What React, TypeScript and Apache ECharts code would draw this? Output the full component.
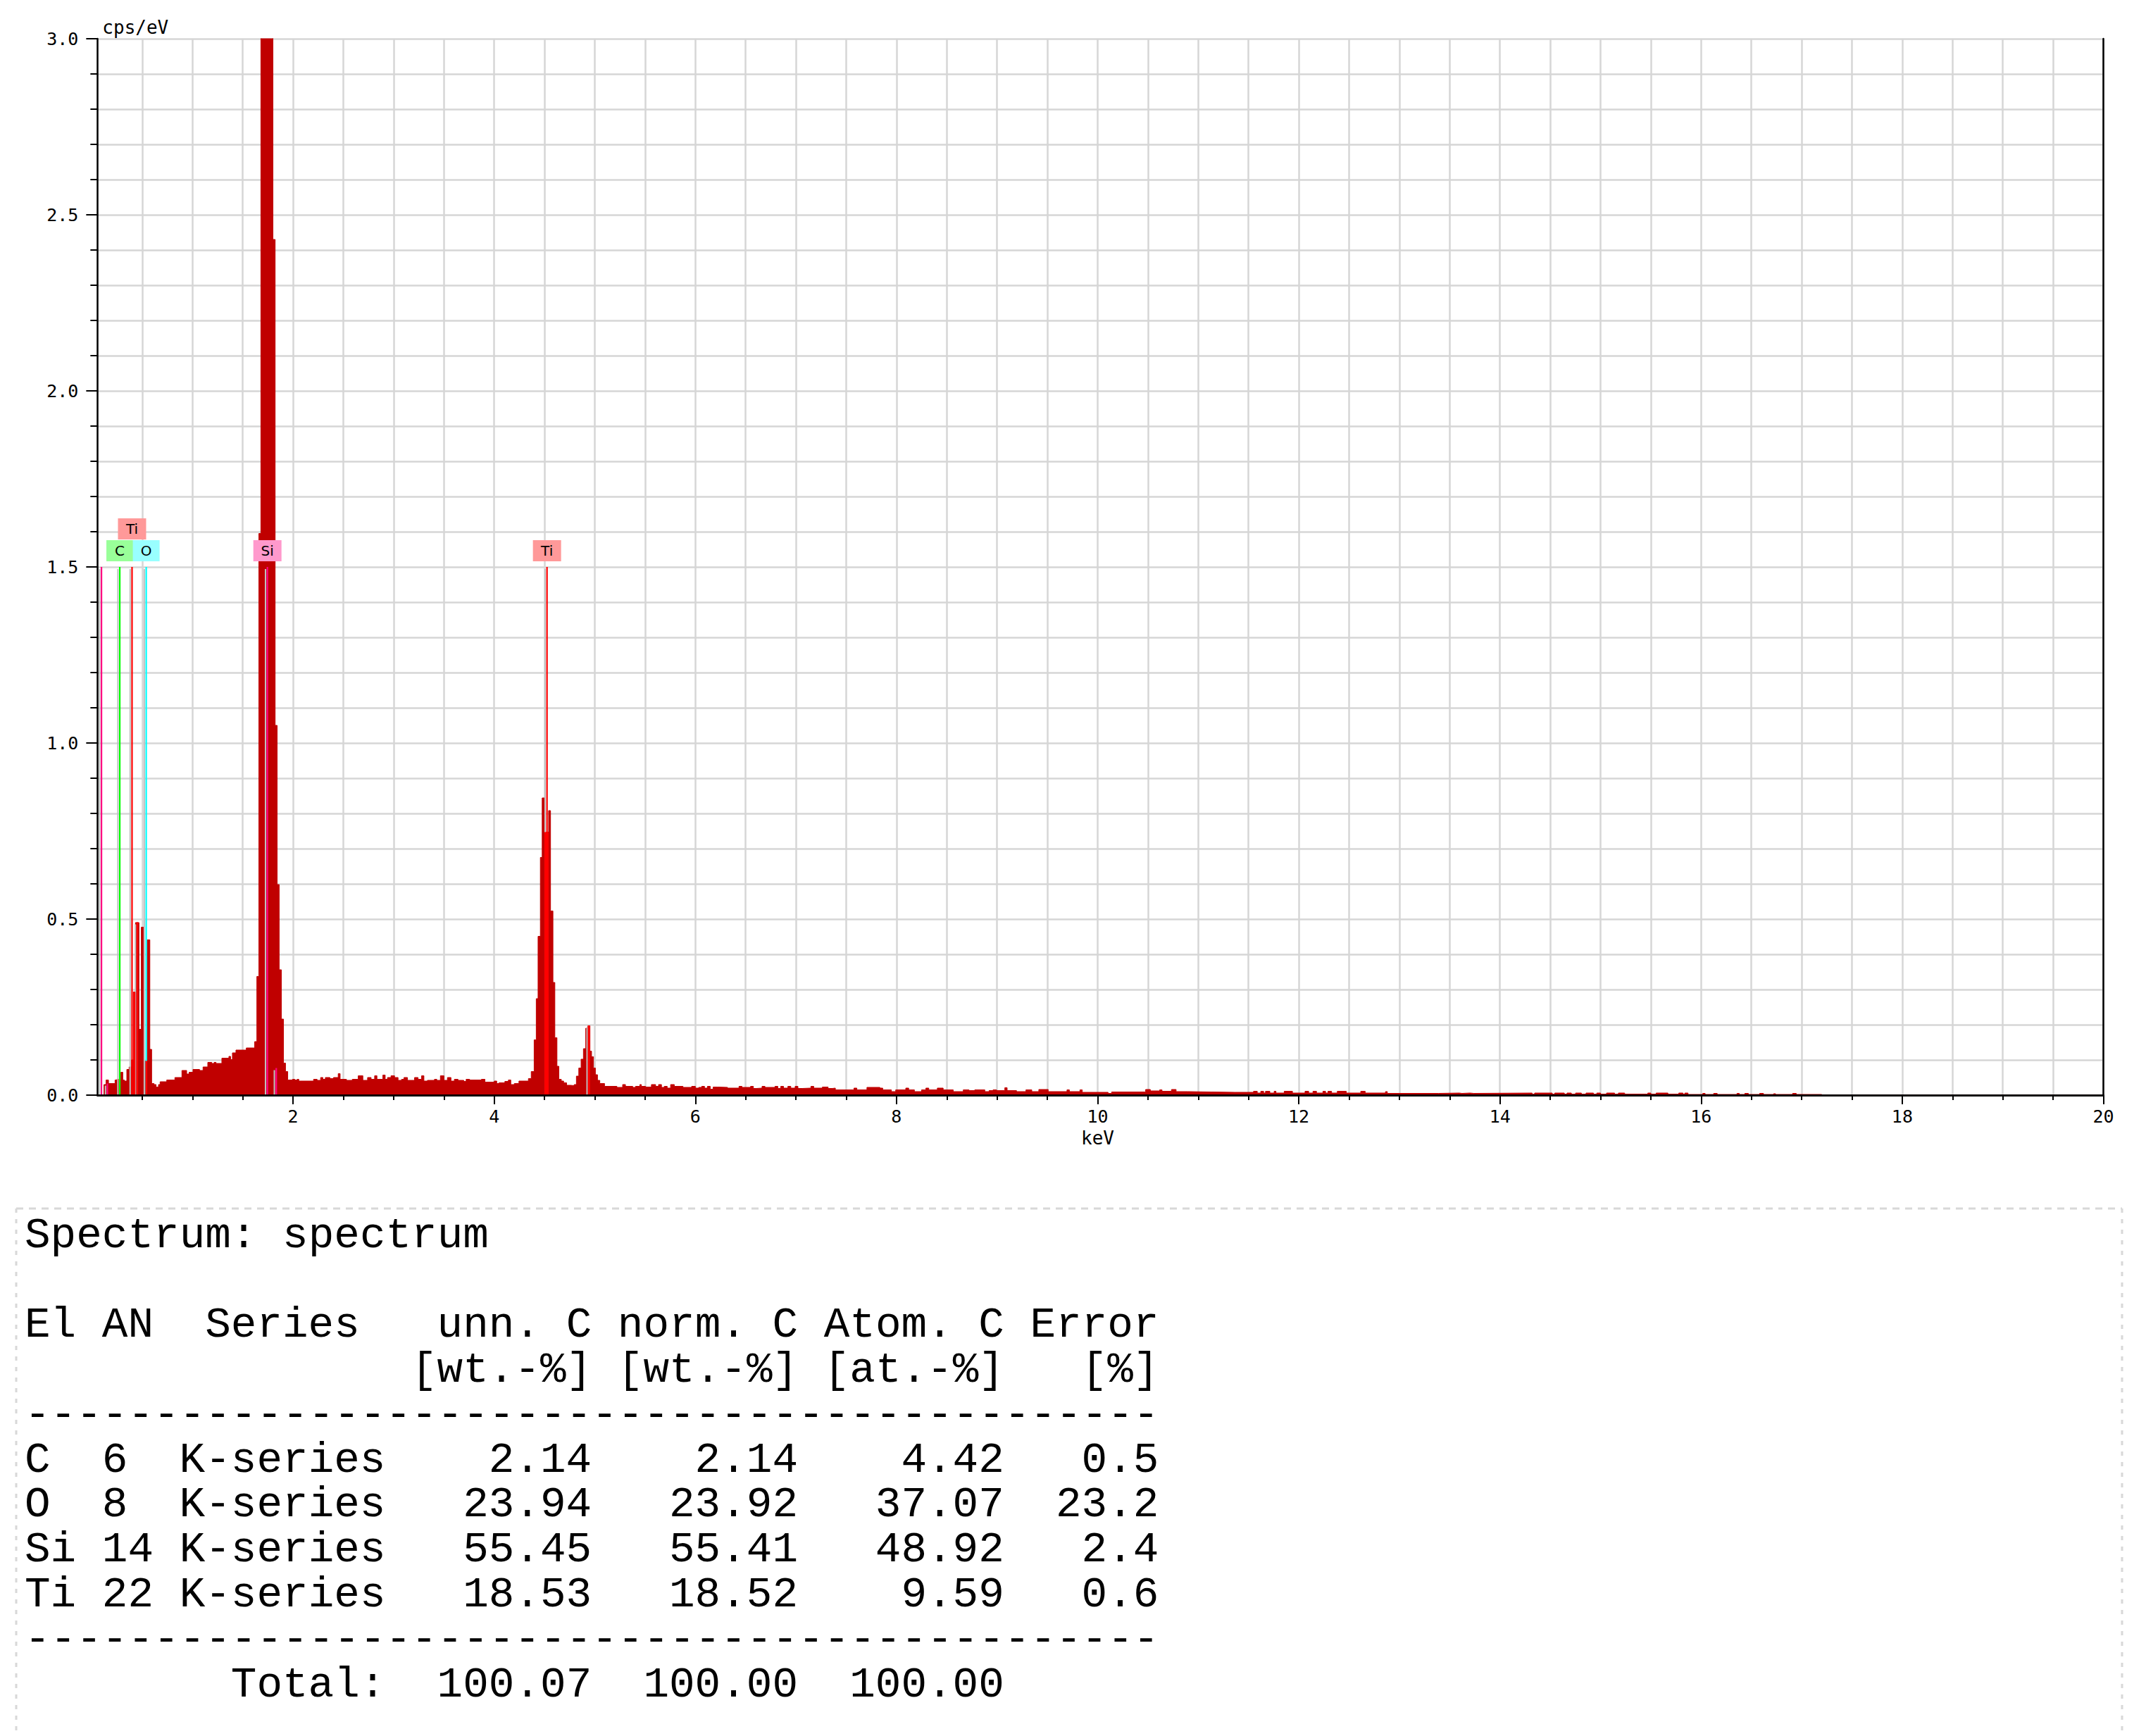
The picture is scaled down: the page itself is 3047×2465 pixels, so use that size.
import React, { useEffect, useRef } from 'react';
import * as echarts from 'echarts';

// ---------- axes ----------
const X_MIN = 0.055; // keV at the left edge of the plot
const X_MAX = 20;
const Y_MAX = 3.0;
const xTickLabels = [2, 4, 6, 8, 10, 12, 14, 16, 18, 20];
const yTickStep = 0.5;

// ---------- spectrum (segment start keV, cps/eV) ----------
const spectrumLow: [number, number][] = [
  [0.055, 0.0], [0.12, 0.03], [0.141, 0.043], [0.165, 0.033], [0.23, 0.043], [0.249, 0.045],
  [0.288, 0.065], [0.307, 0.043], [0.323, 0.04], [0.347, 0.073], [0.37, 0.08], [0.393, 0.1],
  [0.412, 0.293], [0.433, 0.49], [0.468, 0.187], [0.491, 0.477], [0.515, 0.097], [0.533, 0.097],
  [0.55, 0.441], [0.576, 0.13], [0.594, 0.033], [0.617, 0.03], [0.638, 0.023], [0.662, 0.03],
  [0.678, 0.038], [0.744, 0.043], [0.825, 0.05], [0.895, 0.07], [0.942, 0.06], [0.966, 0.065],
  [1.005, 0.073], [1.07, 0.07], [1.105, 0.08], [1.152, 0.093], [1.192, 0.09], [1.215, 0.093],
  [1.234, 0.09], [1.292, 0.105], [1.362, 0.11], [1.379, 0.101], [1.397, 0.12], [1.432, 0.128],
  [1.535, 0.134], [1.618, 0.152],
];
const spectrumSi: [number, number][] = [
  [1.64, 0.337], [1.66, 1.595], [1.68, 3.6], [1.7, 4.6], [1.72, 5.1], [1.74, 4.9], [1.76, 4.2],
  [1.78, 3.3], [1.8, 2.43], [1.822, 1.05], [1.842, 0.598], [1.862, 0.356], [1.884, 0.216],
  [1.905, 0.091], [1.925, 0.067],
];
const spectrumMid: [number, number][] = [
  [1.947, 0.043], [1.994, 0.045], [2.017, 0.043], [2.041, 0.045], [2.057, 0.04], [2.204, 0.045],
  [2.239, 0.042], [2.274, 0.05], [2.297, 0.045], [2.321, 0.05], [2.367, 0.047], [2.402, 0.05],
  [2.449, 0.061], [2.468, 0.045], [2.531, 0.042], [2.589, 0.045], [2.648, 0.055], [2.694, 0.042],
  [2.741, 0.05], [2.776, 0.045], [2.811, 0.055], [2.834, 0.045], [2.893, 0.057], [2.916, 0.045],
  [2.939, 0.05], [2.974, 0.055], [3.009, 0.05], [3.044, 0.042], [3.079, 0.045], [3.103, 0.05],
  [3.138, 0.042], [3.208, 0.05], [3.243, 0.045], [3.278, 0.055], [3.301, 0.04], [3.336, 0.042],
  [3.406, 0.045], [3.429, 0.042], [3.465, 0.055], [3.5, 0.042], [3.535, 0.05], [3.57, 0.04],
  [3.604, 0.045], [3.64, 0.042], [3.698, 0.039], [3.721, 0.045], [3.756, 0.043], [3.873, 0.045],
  [3.908, 0.037], [4.001, 0.04], [4.025, 0.033], [4.048, 0.035], [4.106, 0.039], [4.141, 0.043],
  [4.165, 0.03], [4.2, 0.033], [4.246, 0.04], [4.34, 0.047],
];
const spectrumTi: [number, number][] = [
  [4.368, 0.067], [4.397, 0.157], [4.418, 0.274], [4.436, 0.451], [4.459, 0.675], [4.477, 0.844],
  [4.499, 0.747], [4.541, 0.808], [4.56, 0.523], [4.584, 0.32], [4.603, 0.163], [4.624, 0.082],
  [4.643, 0.045], [4.667, 0.04], [4.69, 0.035], [4.72, 0.028], [4.76, 0.027], [4.795, 0.03],
  [4.817, 0.054], [4.841, 0.077], [4.864, 0.102], [4.887, 0.132], [4.91, 0.19], [4.932, 0.197],
  [4.952, 0.125], [4.968, 0.109], [4.987, 0.077], [5.006, 0.058], [5.027, 0.042], [5.05, 0.033],
  [5.097, 0.025],
];
const spectrumTail: [number, number][] = [
  [5.22, 0.022], [5.277, 0.03], [5.305, 0.025], [5.377, 0.022], [5.405, 0.025], [5.448, 0.03],
  [5.463, 0.025], [5.505, 0.023], [5.563, 0.03], [5.605, 0.025], [5.634, 0.03], [5.663, 0.022],
  [5.691, 0.025], [5.72, 0.02], [5.754, 0.03], [5.791, 0.025], [5.877, 0.022], [5.963, 0.025],
  [6.0, 0.02], [6.034, 0.022], [6.063, 0.025], [6.091, 0.02], [6.12, 0.025], [6.148, 0.017],
  [6.177, 0.023], [6.22, 0.022], [6.32, 0.02], [6.434, 0.025], [6.463, 0.022], [6.549, 0.025],
  [6.577, 0.019], [6.606, 0.02], [6.663, 0.025], [6.692, 0.022], [6.792, 0.025], [6.82, 0.019],
  [6.849, 0.025], [6.877, 0.02], [6.92, 0.025], [6.949, 0.02], [6.992, 0.025], [7.02, 0.019],
  [7.063, 0.02], [7.149, 0.025], [7.177, 0.02], [7.263, 0.023], [7.32, 0.019], [7.363, 0.02],
  [7.392, 0.015], [7.577, 0.02], [7.606, 0.015], [7.706, 0.022], [7.835, 0.02], [7.863, 0.015],
  [7.949, 0.01], [7.992, 0.015], [8.092, 0.02], [8.121, 0.015], [8.178, 0.01], [8.249, 0.015],
  [8.292, 0.02], [8.321, 0.015], [8.406, 0.02], [8.464, 0.015], [8.564, 0.01], [8.664, 0.015],
  [8.721, 0.013], [8.778, 0.015], [8.878, 0.01], [8.921, 0.013], [8.96, 0.015], [8.995, 0.013],
  [9.077, 0.021], [9.1, 0.013], [9.193, 0.01], [9.287, 0.015], [9.345, 0.01], [9.415, 0.016],
  [9.508, 0.01], [9.695, 0.015], [9.719, 0.01], [9.824, 0.015], [9.847, 0.008], [10.104, 0.005],
  [10.139, 0.009], [10.477, 0.016], [10.524, 0.012], [10.617, 0.015], [10.64, 0.011],
  [10.734, 0.016], [10.78, 0.01], [10.897, 0.009], [11.13, 0.008], [11.364, 0.008],
  [11.55, 0.011], [11.587, 0.006], [11.622, 0.011], [11.65, 0.006], [11.669, 0.011],
  [11.712, 0.006], [11.755, 0.011], [11.773, 0.006], [11.855, 0.011], [11.937, 0.006],
  [12.062, 0.011], [12.098, 0.006], [12.141, 0.011], [12.176, 0.006], [12.24, 0.011],
  [12.266, 0.006], [12.29, 0.011], [12.326, 0.006], [12.383, 0.011], [12.472, 0.006],
  [12.616, 0.011], [12.66, 0.006], [12.862, 0.01], [12.88, 0.005], [13.39, 0.006],
  [13.595, 0.005], [13.623, 0.006], [13.702, 0.005], [13.741, 0.006], [14.32, 0.003],
  [14.345, 0.006], [14.52, 0.003], [14.545, 0.006], [14.64, 0.003], [14.667, 0.006],
  [14.71, 0.003], [14.752, 0.006], [14.81, 0.003], [14.856, 0.006], [14.93, 0.003],
  [14.963, 0.006], [15.0, 0.003], [15.06, 0.006], [15.14, 0.003], [15.178, 0.006],
  [15.24, 0.003], [15.47, 0.006], [15.5, 0.003], [15.553, 0.006], [15.67, 0.003],
  [15.778, 0.006], [15.82, 0.003], [15.839, 0.006], [15.87, 0.002], [16.017, 0.005],
  [16.04, 0.002], [16.125, 0.005], [16.16, 0.002], [16.357, 0.005], [16.38, 0.002],
  [16.435, 0.005], [16.47, 0.002], [16.582, 0.005], [16.62, 0.002], [16.721, 0.004],
  [16.74, 0.002], [16.91, 0.005], [16.946, 0.002], [17.2, 0.0], [20.0, 0.0],
];

// channels filled with the element colour under the Ti lines [from keV, to keV, cps/eV]
const highlightRanges: [number, number, number][] = [
  [0.412, 0.433, 0.293], [0.533, 0.55, 0.097], [4.499, 4.541, 0.747], [4.932, 4.952, 0.197],
];

// ---------- element markers ----------
const elements = ['C', 'O', 'Si', 'Ti'];
const elementLineColors = ['#00FF00', '#00FFFF', '#FF0080', '#FF0000'];
const elementBoxColors = ['#99FF99', '#99FFFF', '#FF99CC', '#FF9999'];
const markerEnergy = [0.095, 0.154, 0.277, 0.399, 0.452, 0.54, 1.745, 1.833, 4.525, 4.942];
const markerHeight = [1.5, 0.033, 1.5, 1.5, 0.491, 1.5, 1.5, 0.077, 1.5, 0.197];
const markerElement = ['Si', 'Si', 'C', 'Ti', 'Ti', 'O', 'Si', 'Si', 'Ti', 'Ti'];
const labelElement = ['Ti', 'C', 'O', 'Si', 'Ti'];
const labelEnergy = [0.399, 0.277, 0.54, 1.745, 4.525];
const labelRow = [2, 1, 1, 1, 1];
const markerTop = 1.5;

// ---------- results table ----------
const spectrumName = 'spectrum';
const tableElements = ['C', 'O', 'Si', 'Ti'];
const tableAN = [6, 8, 14, 22];
const tableSeries = ['K-series', 'K-series', 'K-series', 'K-series'];
const unnC = [2.14, 23.94, 55.45, 18.53];
const normC = [2.14, 23.92, 55.41, 18.52];
const atomC = [4.42, 37.07, 48.92, 9.59];
const errorPct = [0.5, 23.2, 2.4, 0.6];
const totals = [100.07, 100.0, 100.0];

// ---------- layout ----------
const W = 3047;
const H = 2465;
const PLOT_RIGHT = 2986.5;
const ZERO_X = 130.5; // pixel where 0 keV would be
const PLOT_TOP = 55;
const PLOT_BOTTOM = 1555;
const PX_PER_KEV = (PLOT_RIGHT - ZERO_X) / X_MAX;
const PLOT_LEFT = ZERO_X + X_MIN * PX_PER_KEV;

const TABLE_FONT = 61;
const TABLE_CW = TABLE_FONT * 0.6;
const TABLE_LEFT = 35;
const TABLE_Y0 = 1754;
const TABLE_LH = 63.8;

const axisFont = 'DejaVu Sans Mono';
const black = '#000000';
const gridColor = '#d6d6d6';

function buildTableLines(): string[] {
  const dash = '-'.repeat(44);
  const rows = tableElements.map(
    (el, i) =>
      el.padEnd(3) +
      String(tableAN[i]).padEnd(3) +
      tableSeries[i] +
      unnC[i].toFixed(2).padStart(8) +
      normC[i].toFixed(2).padStart(8) +
      atomC[i].toFixed(2).padStart(8) +
      errorPct[i].toFixed(1).padStart(6)
  );
  return [
    'Spectrum: ' + spectrumName,
    '',
    'El AN  Series   unn. C norm. C Atom. C Error',
    '               [wt.-%] [wt.-%] [at.-%]   [%]',
    dash,
    ...rows,
    dash,
    ' '.repeat(8) + 'Total:' + totals.map((t) => t.toFixed(2).padStart(8)).join(''),
  ];
}

function buildTableGraphics(): any[] {
  const out: any[] = [];
  buildTableLines().forEach((line, row) => {
    const re = /\S+(?: \S+)*/g;
    let m: RegExpExecArray | null;
    while ((m = re.exec(line)) !== null) {
      out.push({
        type: 'text',
        x: TABLE_LEFT + m.index * TABLE_CW,
        y: TABLE_Y0 + row * TABLE_LH,
        style: {
          text: m[0],
          fontFamily: 'Liberation Mono',
          fontSize: TABLE_FONT,
          fill: black,
          align: 'left',
          verticalAlign: 'middle',
          textAlign: 'left',
          textVerticalAlign: 'middle',
        },
      });
    }
  });
  const border = { stroke: '#d8d8d8', lineWidth: 3 };
  out.push(
    { type: 'line', shape: { x1: 23, y1: 1716, x2: 3013, y2: 1716 }, style: { ...border, lineDash: [10, 8] } },
    { type: 'line', shape: { x1: 23, y1: 1716, x2: 23, y2: H }, style: { ...border, lineDash: [6, 9] } },
    { type: 'line', shape: { x1: 3013, y1: 1716, x2: 3013, y2: H }, style: { ...border, lineDash: [6, 9] } }
  );
  return out;
}

function buildOption(): any {
  const spectrum = [...spectrumLow, ...spectrumSi, ...spectrumMid, ...spectrumTi, ...spectrumTail];
  const markerData = markerEnergy.map((e, i) => [e, markerHeight[i], elements.indexOf(markerElement[i])]);
  const labelData = labelEnergy.map((e, i) => [e, labelRow[i], elements.indexOf(labelElement[i])]);

  const gridBase = { top: PLOT_TOP, bottom: H - PLOT_BOTTOM, right: W - PLOT_RIGHT, show: false, containLabel: false, outerBoundsMode: 'none' };
  const tickLine = { color: black, width: 2 };
  const gridLine = { color: gridColor, width: 2.5, type: 'solid' };

  return {
    animation: false,
    backgroundColor: '#ffffff',
    grid: [
      { ...gridBase, left: PLOT_LEFT },
      { ...gridBase, left: ZERO_X },
    ],
    xAxis: [
      {
        gridIndex: 0, type: 'value', min: X_MIN, max: X_MAX, position: 'bottom', z: 5,
        axisLine: { show: true, lineStyle: { color: black, width: 2.5 } },
        axisTick: { show: false }, axisLabel: { show: false }, splitLine: { show: false },
      },
      {
        gridIndex: 1, type: 'value', min: 0, max: X_MAX, interval: 2, position: 'bottom',
        axisLine: { show: false },
        axisTick: { show: true, length: 13, lineStyle: tickLine, customValues: xTickLabels },
        minorTick: { show: true, splitNumber: 4, length: 7, lineStyle: tickLine },
        splitLine: { show: true, lineStyle: gridLine },
        minorSplitLine: { show: true, lineStyle: gridLine },
        axisLabel: {
          show: true, customValues: xTickLabels, margin: 18, color: black,
          fontFamily: axisFont, fontSize: 25,
          formatter: (v: number) => (v === 0 ? '' : String(v)),
        },
        name: 'keV', nameLocation: 'middle', nameGap: 46,
        nameTextStyle: { color: black, fontFamily: axisFont, fontSize: 26 },
      },
      {
        gridIndex: 0, type: 'value', min: X_MIN, max: X_MAX, position: 'top', z: 5,
        axisLine: { show: true, lineStyle: { color: black, width: 2.5 } },
        axisTick: { show: false }, axisLabel: { show: false }, splitLine: { show: false },
      },
    ],
    yAxis: [
      {
        gridIndex: 0, type: 'value', min: 0, max: Y_MAX, interval: yTickStep, position: 'left',
        axisLine: { show: true, lineStyle: { color: black, width: 2.5 } },
        axisTick: { show: true, length: 16, lineStyle: tickLine },
        minorTick: { show: true, splitNumber: 5, length: 10, lineStyle: tickLine },
        splitLine: { show: true, lineStyle: gridLine },
        minorSplitLine: { show: true, lineStyle: gridLine },
        axisLabel: {
          show: true, margin: 27, color: black, fontFamily: axisFont, fontSize: 25,
          formatter: (v: number) => v.toFixed(1),
        },
        name: 'cps/eV', nameLocation: 'end', nameGap: 3, nameMoveOverlap: false,
        nameTextStyle: {
          color: black, fontFamily: axisFont, fontSize: 26,
          align: 'left', verticalAlign: 'bottom', padding: [0, 0, 0, 7],
        },
      },
      { gridIndex: 1, type: 'value', min: 0, max: Y_MAX, show: false },
      {
        gridIndex: 0, type: 'value', min: 0, max: Y_MAX, position: 'right', z: 5,
        axisLine: { show: true, lineStyle: { color: black, width: 2.5 } },
        axisTick: { show: false }, axisLabel: { show: false }, splitLine: { show: false },
      },
    ],
    series: [
      {
        type: 'line', name: 'spectrum', xAxisIndex: 0, yAxisIndex: 0, z: 2,
        step: 'end', symbol: 'none', showSymbol: false, clip: true,
        lineStyle: { color: '#C00000', width: 1 },
        areaStyle: { color: '#C00000', opacity: 1 },
        data: spectrum,
      },
      {
        type: 'custom', name: 'lines', xAxisIndex: 0, yAxisIndex: 0, z: 3,
        data: markerData,
        renderItem: (params: any, api: any) => {
          const e = api.value(0);
          const h = api.value(1);
          const idx = api.value(2);
          const top = api.coord([e, h]);
          const base = api.coord([e, 0]);
          return {
            type: 'group',
            children: [
              { type: 'line', shape: { x1: top[0] - 2.7, y1: top[1] + 3, x2: top[0] - 2.7, y2: base[1] }, style: { stroke: '#c0c0c0', lineWidth: 2 } },
              { type: 'line', shape: { x1: top[0], y1: top[1], x2: top[0], y2: base[1] }, style: { stroke: elementLineColors[idx], lineWidth: 2.2 } },
            ],
          };
        },
      },
      {
        type: 'custom', name: 'fill', xAxisIndex: 0, yAxisIndex: 0, z: 4,
        data: highlightRanges,
        renderItem: (params: any, api: any) => {
          const a = api.coord([api.value(0), api.value(2)]);
          const b = api.coord([api.value(1), 0]);
          return { type: 'rect', shape: { x: a[0], y: a[1], width: b[0] - a[0], height: b[1] - a[1] }, style: { fill: '#FF0000' } };
        },
      },
      {
        type: 'custom', name: 'labels', xAxisIndex: 0, yAxisIndex: 0, z: 6,
        data: labelData,
        renderItem: (params: any, api: any) => {
          const e = api.value(0);
          const row = api.value(1);
          const idx = api.value(2);
          const p = api.coord([e, markerTop]);
          const text = elements[idx];
          const w = text.length > 1 ? 40 : 38;
          const y0 = row === 2 ? p[1] - 69 : p[1] - 38;
          return {
            type: 'group',
            children: [
              { type: 'rect', shape: { x: p[0] - w / 2, y: y0, width: w, height: 30 }, style: { fill: elementBoxColors[idx] } },
              {
                type: 'text', x: p[0], y: y0 + 15,
                style: {
                  text, fill: black, fontFamily: 'DejaVu Sans', fontSize: 20,
                  align: 'center', verticalAlign: 'middle', textAlign: 'center', textVerticalAlign: 'middle',
                },
              },
            ],
          };
        },
      },
    ],
    graphic: buildTableGraphics(),
  };
}

export default function App() {
  const ref = useRef<HTMLDivElement>(null);
  useEffect(() => {
    if (!ref.current) return;
    const chart = echarts.init(ref.current, null, { renderer: 'svg' });
    chart.setOption(buildOption());
    return () => chart.dispose();
  }, []);
  return (
    <div
      ref={ref}
      style={{ position: 'absolute', left: 0, top: 0, width: W, height: H, background: '#ffffff' }}
    />
  );
}
